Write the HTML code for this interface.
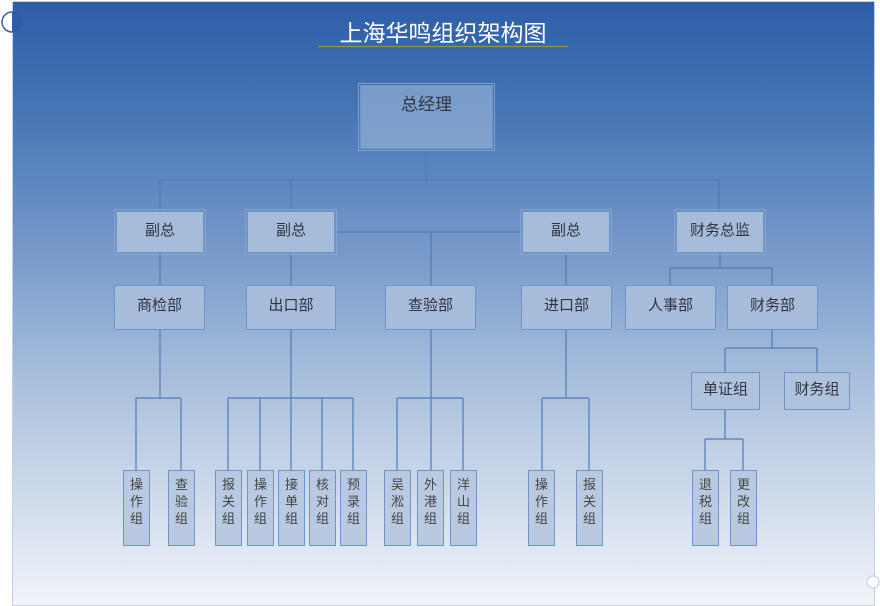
<!DOCTYPE html>
<html><head><meta charset="utf-8">
<style>
html,body{margin:0;padding:0;width:880px;height:606px;overflow:hidden;background:#fff;}
#bg{position:absolute;left:12px;top:1px;width:861px;height:603px;border:1px solid #c5d0e2;
background:linear-gradient(to bottom,#2c5ea8 0%,#4a78b6 20%,#7497c9 40%,#a7bedc 62%,#cbd8ea 80%,#f1f4f9 100%);}
.b{position:absolute;box-sizing:border-box;background:#a7bcda;border:1px solid #6f95c6;
font-family:"Liberation Sans","Noto Sans CJK SC",sans-serif;font-size:15px;color:#2e3440;text-align:center;}
.d{outline:1px solid rgba(140,170,210,0.8);outline-offset:1px;}
.v{font-size:13px;line-height:17px;padding-top:5px;color:#444;background:#b8c9e1;}
#title{position:absolute;left:318px;top:14px;width:250px;text-align:center;color:#fff;font-size:23px;
font-family:"Liberation Sans","Noto Sans CJK SC",sans-serif;}
</style></head><body>
<div id="bg"></div>
<svg style="position:absolute;left:0;top:0" width="880" height="606">
<circle cx="12" cy="22" r="10" fill="#fff" stroke="#3060a8" stroke-width="1.5"/>
<path d="M12,12 A10,10 0 0 1 12,32 Z" fill="#2c5ea8"/>
<circle cx="873" cy="582" r="6" fill="#fff" stroke="#b8c8e0"/>
<line x1="318" y1="46.5" x2="568" y2="46.5" stroke="#8a9a3a" stroke-width="1.2"/>
<g stroke="#4f7bb8" stroke-width="1.2" fill="none">
<path d="M426,150V180M160,180H719M160,180V210M291,180V210M719,180V210"/>
<path d="M336,232H521M431,232V285"/>
<path d="M160,254V285M291,254V285M566,254V285"/>
<path d="M720,254V268M670,268H772M670,268V285M772,268V285"/>
<path d="M160,330V398M136,398H181M136,398V470M181,398V470"/>
<path d="M291,330V470M228,398H353M228,398V470M260,398V470M322,398V470M353,398V470"/>
<path d="M431,330V470M397,398H463M397,398V470M463,398V470"/>
<path d="M566,330V398M542,398H589M542,398V470M589,398V470"/>
<path d="M772,330V348M725,348H817M725,348V372M817,348V372"/>
<path d="M725,410V439M705,439H743M705,439V470M743,439V470"/>
</g>
</svg>
<div id="title">上海华鸣组织架构图</div>
<div class="b d" style="left:360px;top:85px;width:133px;height:64px;line-height:38px;font-size:17px;background:rgba(160,185,220,0.6);">总经理</div>
<div class="b d" style="left:116px;top:211px;width:88px;height:42px;line-height:38px;">副总</div>
<div class="b d" style="left:247px;top:211px;width:88px;height:42px;line-height:38px;">副总</div>
<div class="b d" style="left:522px;top:211px;width:88px;height:42px;line-height:38px;">副总</div>
<div class="b d" style="left:676px;top:211px;width:88px;height:42px;line-height:38px;">财务总监</div>
<div class="b" style="left:114px;top:285px;width:91px;height:45px;line-height:40px;">商检部</div>
<div class="b" style="left:246px;top:285px;width:90px;height:45px;line-height:40px;">出口部</div>
<div class="b" style="left:385px;top:285px;width:91px;height:45px;line-height:40px;">查验部</div>
<div class="b" style="left:521px;top:285px;width:91px;height:45px;line-height:40px;">进口部</div>
<div class="b" style="left:625px;top:285px;width:91px;height:45px;line-height:40px;">人事部</div>
<div class="b" style="left:727px;top:285px;width:91px;height:45px;line-height:40px;">财务部</div>
<div class="b" style="left:691px;top:372px;width:69px;height:38px;line-height:34px;background:#b0c3de;">单证组</div>
<div class="b" style="left:784px;top:372px;width:66px;height:38px;line-height:34px;background:#b0c3de;">财务组</div>
<div class="b v" style="left:123px;top:470px;width:27px;height:76px;">操<br>作<br>组</div>
<div class="b v" style="left:168px;top:470px;width:27px;height:76px;">查<br>验<br>组</div>
<div class="b v" style="left:215px;top:470px;width:27px;height:76px;">报<br>关<br>组</div>
<div class="b v" style="left:247px;top:470px;width:27px;height:76px;">操<br>作<br>组</div>
<div class="b v" style="left:278px;top:470px;width:27px;height:76px;">接<br>单<br>组</div>
<div class="b v" style="left:309px;top:470px;width:27px;height:76px;">核<br>对<br>组</div>
<div class="b v" style="left:340px;top:470px;width:27px;height:76px;">预<br>录<br>组</div>
<div class="b v" style="left:384px;top:470px;width:27px;height:76px;">吴<br>淞<br>组</div>
<div class="b v" style="left:417px;top:470px;width:27px;height:76px;">外<br>港<br>组</div>
<div class="b v" style="left:450px;top:470px;width:27px;height:76px;">洋<br>山<br>组</div>
<div class="b v" style="left:528px;top:470px;width:27px;height:76px;">操<br>作<br>组</div>
<div class="b v" style="left:576px;top:470px;width:27px;height:76px;">报<br>关<br>组</div>
<div class="b v" style="left:692px;top:470px;width:27px;height:76px;">退<br>税<br>组</div>
<div class="b v" style="left:730px;top:470px;width:27px;height:76px;">更<br>改<br>组</div>
</body></html>
